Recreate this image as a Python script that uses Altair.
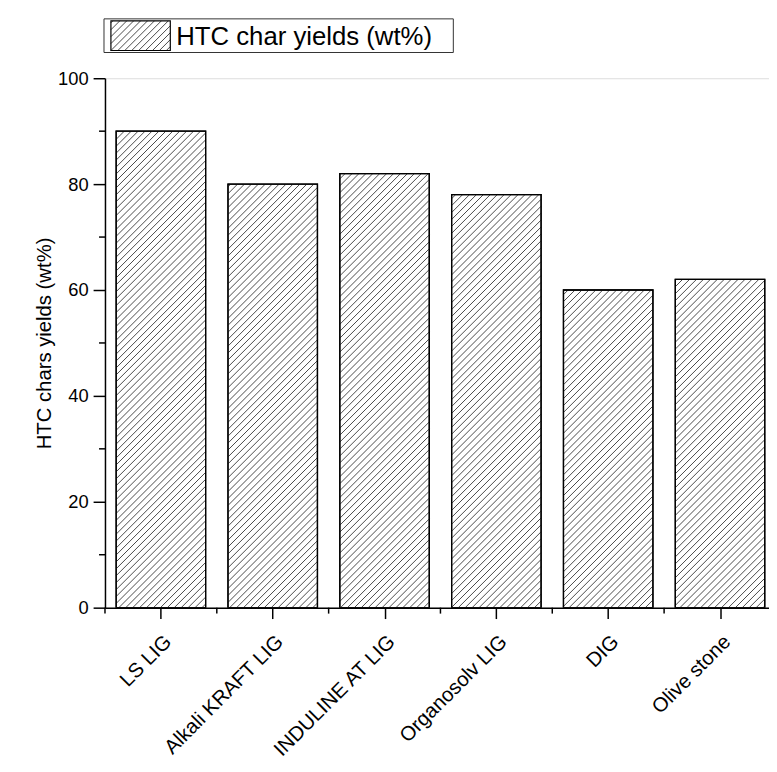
import altair as alt
import pandas as pd

categories = ["LS LIG", "Alkali KRAFT LIG", "INDULINE AT LIG", "Organosolv LIG", "DIG", "Olive stone"]
yields = [90, 80, 82, 78, 60, 62]
y_ticks = [0, 20, 40, 60, 80, 100]
y_minor = [10, 30, 50, 70, 90]
legend_label = "HTC char yields (wt%)"
y_title = "HTC chars yields (wt%)"

W, H = 671, 535
N = len(categories)
PX_X = 113.0          # pixels per category step
X_MAX = W / PX_X      # visible part of the category range
PX_Y = H / 100.0
SPACING = 7.0
FONT = "Liberation Sans"

bars = pd.DataFrame({
    "cat": categories,
    "x0": [i + 0.1 for i in range(N)],
    "x1": [i + 0.9 for i in range(N)],
    "y": yields,
})

segs = []
for i, v in enumerate(yields):
    u0, u1 = (i + 0.1) * PX_X, min((i + 0.9) * PX_X, W)
    h = v * PX_Y
    k0 = int((u0 - h) // SPACING) - 1
    k1 = int(u1 // SPACING) + 1
    for k in range(k0, k1 + 1):
        c = k * SPACING
        a = max(u0, c)
        b = min(u1, c + h)
        if b - a > 0.5:
            segs.append({"x": a / PX_X, "y": (a - c) / PX_Y,
                         "x2": b / PX_X, "y2": (b - c) / PX_Y})
hatch = pd.DataFrame(segs)

xs = alt.Scale(domain=[0, X_MAX], nice=False, zero=False)
ys = alt.Scale(domain=[0, 100], nice=False)

label_expr = "[" + ",".join('"%s"' % c for c in categories) + "][floor(datum.value)]"

base_bar = alt.Chart(bars).mark_rect(fill="white", stroke="black", strokeWidth=1.3, clip=True).encode(
    x=alt.X("x0:Q", scale=xs,
            axis=alt.Axis(values=[i + 0.5 for i in range(N)], labelExpr=label_expr,
                          labelAngle=-45, labelAlign="right", labelBaseline="top",
                          labelFontSize=20.5, labelFont=FONT, labelColor="black",
                          labelPadding=13, tickSize=11, tickColor="black", tickWidth=1.5,
                          domainColor="black", domainWidth=1.5, grid=False, title=None,
                          labelOverlap=False, labelBound=False)),
    x2="x1:Q",
    y=alt.Y("y:Q", scale=ys,
            axis=alt.Axis(values=y_ticks, labelFontSize=18.5, labelFont=FONT, labelColor="black",
                          labelPadding=5, tickSize=12, tickColor="black", tickWidth=1.5,
                          domainColor="black", domainWidth=1.5, grid=False,
                          title=y_title, titleFont=FONT, titleFontSize=20.5,
                          titleFontWeight="normal", titleColor="black", titlePadding=3)),
    y2=alt.datum(0),
)

hatch_layer = alt.Chart(hatch).mark_rule(color="#2a2a2a", strokeWidth=0.85).encode(
    x=alt.X("x:Q", scale=xs), y=alt.Y("y:Q", scale=ys),
    x2="x2:Q", y2="y2:Q",
)

outline = alt.Chart(bars).mark_rect(fill=None, stroke="black", strokeWidth=1.3, clip=True).encode(
    x=alt.X("x0:Q", scale=xs), x2="x1:Q",
    y=alt.Y("y:Q", scale=ys), y2=alt.datum(0),
)

xminor = alt.Chart(pd.DataFrame({"b": list(range(N))})).mark_rule(color="black", strokeWidth=1.5).encode(
    x=alt.X("b:Q", scale=xs), y=alt.value(H), y2=alt.value(H + 6),
)
yminor = alt.Chart(pd.DataFrame({"m": y_minor})).mark_rule(color="black", strokeWidth=1.5).encode(
    y=alt.Y("m:Q", scale=ys), x=alt.value(0), x2=alt.value(-6),
)

leg_box = alt.Chart(pd.DataFrame({"a": [0]})).mark_rect(fill="white", stroke="#333333", strokeWidth=1).encode(
    x=alt.value(-1), x2=alt.value(352), y=alt.value(-60), y2=alt.value(-26),
)
sw_x0, sw_x1, sw_y0, sw_y1 = 6, 66, -58, -28
lsegs = []
sh = sw_y1 - sw_y0
for k in range(-10, 20):
    c = sw_x0 + k * SPACING
    a = max(sw_x0, c)
    b = min(sw_x1, c + sh)
    if b - a > 0.5:
        lsegs.append({"px": a, "py": sw_y1 - (a - c), "px2": b, "py2": sw_y1 - (b - c)})
leg_hatch = alt.Chart(pd.DataFrame(lsegs)).mark_rule(color="#2a2a2a", strokeWidth=0.85).encode(
    x=alt.X("px:Q", scale=None), y=alt.Y("py:Q", scale=None),
    x2="px2:Q", y2="py2:Q",
)
leg_sw = alt.Chart(pd.DataFrame({"a": [0]})).mark_rect(fill=None, stroke="black", strokeWidth=1.2).encode(
    x=alt.value(sw_x0), x2=alt.value(sw_x1), y=alt.value(sw_y0), y2=alt.value(sw_y1),
)
leg_text = alt.Chart(pd.DataFrame({"t": [legend_label]})).mark_text(
    align="left", baseline="alphabetic", font=FONT, fontSize=26, color="black"
).encode(x=alt.value(72), y=alt.value(-34), text="t:N")

chart = alt.layer(
    base_bar, hatch_layer, outline, xminor, yminor, leg_box, leg_hatch, leg_sw, leg_text
).properties(
    width=W, height=H,
    autosize=alt.AutoSizeParams(type="none"),
    padding={"left": 98, "top": 67, "right": 0, "bottom": 154},
).configure_view(stroke=None).configure(background="white")

chart.save("out.html", embed_options={"renderer": "svg", "actions": False})
